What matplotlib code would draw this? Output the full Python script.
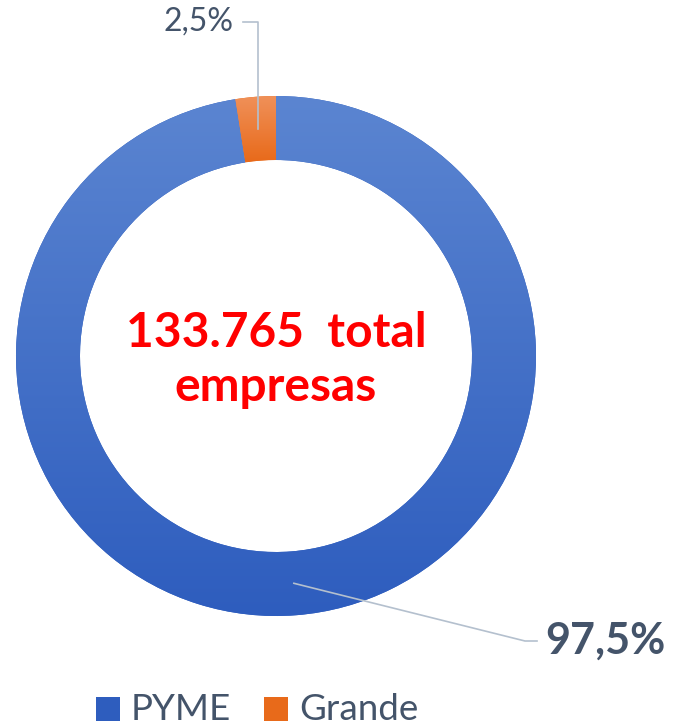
import matplotlib.pyplot as plt
import numpy as np
from matplotlib.colors import LinearSegmentedColormap
from matplotlib.patches import Rectangle

# data
labels = ['PYME', 'Grande']
shares = [97.5, 2.5]
total_txt = '133.765'

# colours (top / bottom of the gradient)
col_top = ['#5B85D1', '#F0915A']
col_bot = ['#2E5DBE', '#E86A1A']
txt_col = '#44546A'
line_col = '#B4C0CE'

plt.rcParams['font.family'] = ['Lato', 'DejaVu Sans']

W, H = 673, 728
fig = plt.figure(figsize=(W / 100, H / 100), dpi=100)
ax = fig.add_axes([0, 0, 1, 1])

cx, cy, R, ring = 276, H - 356, 260, 64
wedges, _ = ax.pie(shares, startangle=90, counterclock=False, radius=R,
                   center=(cx, cy), frame=True,
                   wedgeprops=dict(width=ring, linewidth=0))
ax.set_xlim(0, W)
ax.set_ylim(0, H)
ax.set_aspect('equal')
ax.axis('off')


def grad_fill(patch, top, bot, z=2):
    bb = patch.get_path().get_extents()
    cmap = LinearSegmentedColormap.from_list('g', [bot, top])
    img = np.linspace(0, 1, 256).reshape(-1, 1)
    im = ax.imshow(img, cmap=cmap, origin='lower', aspect='auto',
                   extent=[bb.x0, bb.x1, bb.y0, bb.y1], zorder=z)
    im.set_clip_path(patch)


for w, t, b in zip(wedges, col_top, col_bot):
    w.set_facecolor(b)
    grad_fill(w, t, b)

# label leader lines
for i, w in enumerate(wedges):
    th = np.deg2rad((w.theta1 + w.theta2) / 2)
    rm = R - ring / 2
    px, py = cx + rm * np.cos(th), cy + rm * np.sin(th)
    lab = f'{shares[i]:.1f}'.replace('.', ',') + '%'
    if labels[i] == 'Grande':
        ax.plot([px, px, px - 15], [py, H - 22, H - 22], color=line_col, lw=1.2, zorder=3)
        ax.text(px - 25, H - 22, lab, ha='right', va='center', fontsize=23,
                color=txt_col)
    else:
        ax.plot([px, 525, 537], [py, H - 641, H - 641], color=line_col, lw=1.2, zorder=3)
        ax.text(545, H - 641, lab, ha='left', va='center', fontsize=31,
                fontweight='bold', color=txt_col)

# centre text
ax.text(cx, H - 360, total_txt + '  total\nempresas', ha='center', va='center',
        fontsize=34.5, fontweight='bold', color='#FF0000', linespacing=1.3)

# legend
lx = [96, 264]
for i, lab in enumerate(labels):
    r = Rectangle((lx[i], H - 721), 24, 24, linewidth=0, facecolor=col_bot[i])
    ax.add_patch(r)
    grad_fill(r, col_top[i], col_bot[i])
    ax.text(lx[i] + 35, H - 720, lab, ha='left', va='baseline', fontsize=26.5,
            color=txt_col)

fig.savefig('out.png', dpi=100)
